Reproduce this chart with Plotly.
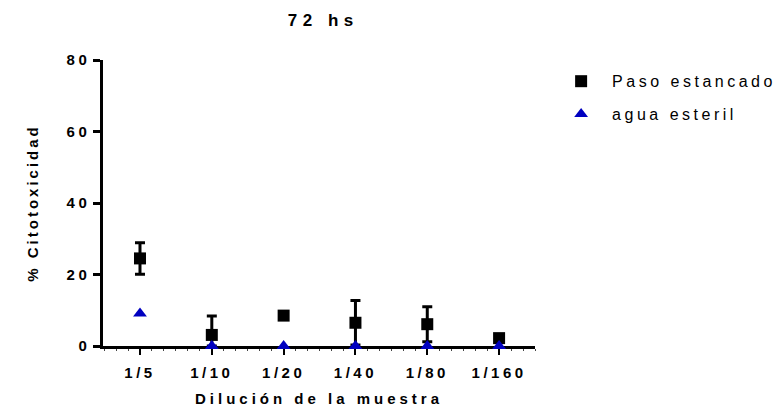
import plotly.graph_objects as go

# Sample dilutions and measured cytotoxicity (%) after 72 h
diluciones = ["1/5", "1/10", "1/20", "1/40", "1/80", "1/160"]
paso_media = [24.5, 3.1, 8.5, 6.5, 6.1, 2.2]
paso_sd = [4.4, 5.3, 0.0, 6.2, 4.9, 0.0]
agua_media = [9.1, 0.0, 0.0, 0.0, 0.0, 0.0]
y_ticks = [0, 20, 40, 60, 80]

x_pos = list(range(len(diluciones)))
# lower whiskers stop at the axis (no negative cytotoxicity)
paso_sd_minus = [min(s, m) for s, m in zip(paso_sd, paso_media)]

FONT = "Liberation Sans, Arial, sans-serif"

fig = go.Figure()
fig.add_trace(go.Scatter(
    x=x_pos, y=paso_media, mode="markers", name="Paso estancado",
    legendgroup="paso",
    marker=dict(symbol="square", size=12, color="black"),
    error_y=dict(type="data", array=paso_sd, arrayminus=paso_sd_minus,
                 symmetric=False, color="black", thickness=3, width=5),
    cliponaxis=False,
))
fig.add_trace(go.Scatter(
    x=x_pos, y=agua_media, mode="markers", name="agua esteril",
    legendgroup="agua",
    marker=dict(symbol="triangle-up", size=12, color="#0000c0"),
    cliponaxis=False,
))

fig.update_layout(
    width=779, height=413,
    margin=dict(l=103, r=244, t=60, b=67),
    paper_bgcolor="white", plot_bgcolor="white",
    font=dict(family=FONT, color="black"),
    title=dict(text="<b>72 hs</b>", x=0.415, xanchor="center", y=0.952, yanchor="middle",
               font=dict(size=17, family=FONT)),
    showlegend=True,
    legend=dict(x=1.035, xanchor="left", y=0.985, yanchor="top",
                font=dict(size=16, family=FONT), itemsizing="constant",
                itemwidth=52, tracegroupgap=9, bgcolor="rgba(0,0,0,0)"),
    xaxis=dict(
        range=[-0.515, 5.5], tickmode="array", tickvals=x_pos,
        ticktext=[f"<b>{d}</b>" for d in diluciones],
        showline=True, linecolor="black", linewidth=2.5, layer="below traces",
        ticks="outside", ticklen=6, tickwidth=2, tickcolor="black",
        ticklabelstandoff=5, automargin=False,
        showgrid=False, zeroline=False, tickfont=dict(size=15),
        minor=dict(dtick=1 / 6, ticks="outside", ticklen=2, tickwidth=1,
                   tickcolor="#444", showgrid=False),
        title=dict(text="<b>Dilución de la muestra</b>", font=dict(size=15), standoff=14),
    ),
    yaxis=dict(
        range=[0, 80], tickmode="array", tickvals=y_ticks,
        ticktext=[f"<b>{v}</b>" for v in y_ticks],
        showline=True, linecolor="black", linewidth=2.5, layer="below traces",
        ticks="outside", ticklen=7, tickwidth=2.5, tickcolor="black",
        automargin=False,
        showgrid=False, zeroline=False, tickfont=dict(size=15),
        title=dict(text="<b>% Citotoxicidad</b>", font=dict(size=15), standoff=32),
    ),
)

# wide letter spacing for the chart's text; legend entries are not clipped
post = """
var s = document.createElement('style');
s.innerHTML = [
  '.gtitle { letter-spacing: 5.5px; }',
  '.xtitle { letter-spacing: 4px; }',
  '.ytitle { letter-spacing: 3px; }',
  '.xtick text, .ytick text { letter-spacing: 3.5px; }',
  '.legendtext { letter-spacing: 3.5px; }',
  '.legend .scrollbox { clip-path: none !important; }',
  '.legend { clip-path: none !important; }'
].join('\\n');
document.head.appendChild(s);
"""
fig.write_html("out.html", post_script=post)
